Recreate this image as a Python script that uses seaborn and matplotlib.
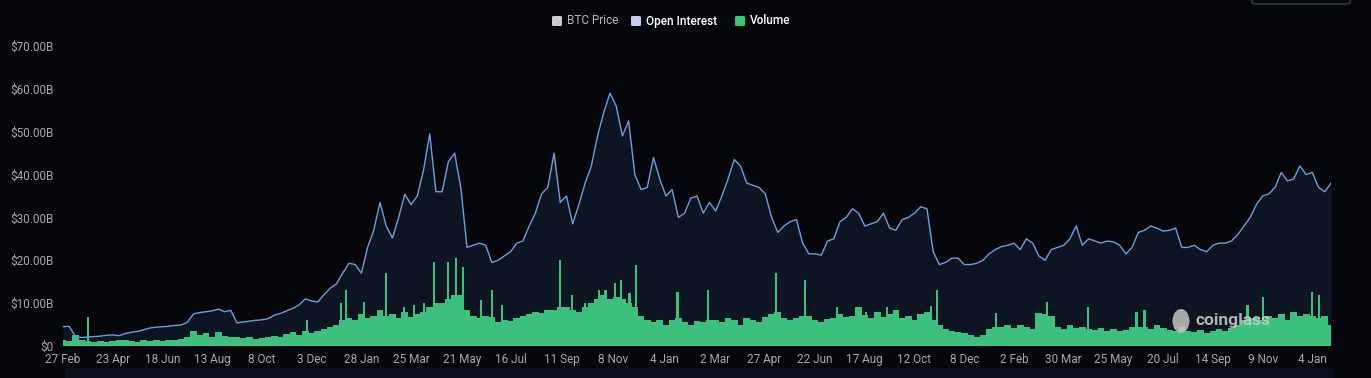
import pandas as pd
import matplotlib.pyplot as plt
import seaborn as sns
from matplotlib.patches import FancyBboxPatch, Rectangle, Ellipse


# weekly samples, first point 27 Feb 2020 (values in $B)
start_date = '2020-02-27'

open_interest = [
    4.5, 4.6, 2.2, 2.0, 2.1, 2.2, 2.3, 2.5, 2.6, 2.4,
    2.9, 3.2, 3.4, 3.8, 4.2, 4.4, 4.5, 4.6, 4.8, 4.9,
    5.5, 7.5, 7.8, 8.0, 8.2, 8.6, 8.0, 8.3, 5.4, 5.6,
    5.8, 6.0, 6.1, 6.4, 7.2, 7.6, 8.2, 8.8, 9.6, 11.0,
    10.5, 10.3, 12.0, 13.5, 14.5, 17.0, 19.3, 19.0, 17.0, 23.0,
    27.0, 33.5, 28.0, 25.2, 30.0, 35.4, 33.0, 35.0, 41.0, 49.5,
    36.0, 36.0, 43.0, 45.0, 37.0, 23.0, 23.5, 24.0, 23.5, 19.5,
    20.0, 21.0, 22.0, 24.0, 24.5, 28.0, 31.0, 35.5, 37.0, 45.0,
    33.5, 35.0, 28.5, 33.0, 38.0, 42.0, 49.0, 54.5, 59.0, 56.0,
    49.0, 52.5, 40.0, 36.5, 37.0, 44.0, 39.0, 35.0, 36.5, 30.0,
    31.0, 34.5, 35.0, 31.0, 33.5, 31.5, 35.0, 39.0, 43.5, 42.0,
    38.0, 37.5, 37.0, 35.5, 30.0, 26.5, 28.0, 29.0, 29.5, 24.0,
    21.5, 21.5, 21.2, 24.5, 25.0, 29.0, 30.0, 32.0, 31.0, 28.0,
    28.5, 29.0, 31.0, 27.5, 27.0, 29.5, 30.0, 31.0, 32.5, 32.0,
    22.0, 19.0, 19.5, 20.5, 20.5, 19.0, 19.0, 19.3, 20.0, 21.5,
    22.5, 23.2, 23.5, 24.0, 22.5, 25.0, 24.0, 21.0, 20.0, 22.5,
    23.0, 23.5, 25.0, 28.0, 23.5, 25.0, 24.5, 24.0, 24.5, 24.3,
    23.5, 21.5, 23.0, 26.5, 27.0, 28.0, 27.5, 26.8, 27.0, 27.5,
    23.0, 23.0, 23.5, 22.5, 22.0, 23.5, 24.0, 24.0, 24.5, 26.0,
    28.0, 30.0, 33.0, 35.0, 35.5, 37.0, 40.5, 38.5, 39.0, 42.0,
    40.0, 40.5, 37.0, 36.0, 38.0,
]

# typical weekly volume level (the green mass)
volume = [
    1.5, 1.2, 2.5, 1.5, 1.2, 1.0, 1.2, 0.9, 1.1, 1.3,
    1.5, 1.2, 1.0, 1.3, 1.1, 1.4, 1.2, 1.5, 1.3, 1.6,
    2.0, 3.5, 2.5, 3.0, 2.2, 3.2, 2.4, 2.0, 2.2, 1.8,
    2.0, 1.6, 1.8, 2.0, 2.4, 2.2, 2.8, 3.2, 2.6, 3.5,
    3.0, 3.5, 4.0, 4.5, 5.0, 6.0, 6.5, 6.0, 7.5, 6.5,
    7.0, 8.5, 7.0, 7.5, 6.5, 8.0, 6.8, 7.5, 8.0, 9.0,
    10.0, 10.0, 11.0, 12.0, 12.0, 8.5, 7.0, 6.5, 7.0, 6.8,
    5.5, 6.0, 5.8, 6.5, 7.0, 7.5, 8.0, 7.8, 8.5, 8.5,
    9.0, 9.0, 8.5, 8.0, 9.0, 10.0, 11.0, 12.0, 11.0, 11.5,
    11.0, 10.0, 9.0, 7.0, 6.0, 5.5, 6.0, 5.0, 6.0, 6.5,
    5.5, 5.0, 5.8, 5.5, 6.0, 6.0, 5.5, 6.5, 6.0, 5.0,
    6.5, 6.0, 5.5, 6.8, 7.5, 8.0, 6.5, 6.0, 6.5, 7.0,
    7.0, 6.0, 5.5, 6.2, 6.5, 7.5, 6.8, 7.0, 9.0, 7.2,
    6.5, 8.0, 6.8, 7.5, 8.5, 6.5, 7.0, 6.0, 7.5, 8.0,
    6.0, 5.0, 4.0, 3.5, 3.2, 3.0, 2.5, 2.2, 2.5, 4.0,
    4.5, 4.5, 5.0, 4.2, 4.8, 4.5, 4.0, 7.6, 7.5, 7.0,
    4.5, 4.0, 5.0, 4.2, 4.5, 4.0, 3.8, 4.2, 3.5, 4.0,
    3.5, 3.8, 4.5, 4.5, 4.5, 4.0, 5.0, 4.2, 3.8, 3.5,
    4.5, 3.5, 3.2, 3.8, 3.0, 3.5, 4.0, 3.5, 4.2, 5.0,
    6.0, 6.5, 6.5, 6.0, 7.0, 6.5, 7.5, 6.0, 8.0, 7.0,
    7.5, 7.0, 6.5, 7.0, 5.0,
]

# single-day volume spikes that stand above the mass
spike_dates = [
    '2020-03-26', '2020-11-28', '2021-01-05', '2021-01-11', '2021-01-31',
    '2021-02-25', '2021-03-17', '2021-03-28', '2021-04-09', '2021-04-20',
    '2021-05-06', '2021-05-15', '2021-05-22', '2021-06-12', '2021-06-24',
    '2021-07-05', '2021-09-09', '2021-09-22', '2021-10-07', '2021-10-23',
    '2021-10-30', '2021-11-10', '2021-11-16', '2021-11-26', '2021-12-03',
    '2022-01-19', '2022-02-22', '2022-05-10', '2022-06-12', '2022-07-18',
    '2022-08-19', '2022-09-12', '2022-10-25', '2022-11-01', '2022-11-07',
    '2023-01-13', '2023-03-11', '2023-04-26', '2023-06-20', '2023-06-29',
    '2023-10-23', '2023-11-09', '2024-01-04', '2024-01-11',
]
spike_values = [
    6.8, 6.0, 10.0, 13.0, 10.3,
    17.0, 9.0, 9.5, 10.0, 19.6,
    19.5, 20.5, 18.5, 10.7, 13.0,
    9.5, 20.0, 12.0, 10.0, 13.0,
    13.0, 14.6, 15.4, 12.3, 18.9,
    12.7, 13.0, 17.0, 15.4, 9.2,
    8.0, 9.0, 8.0, 9.3, 13.0,
    7.6, 10.3, 9.0, 8.0, 8.5,
    9.6, 11.5, 12.7, 12.0,
]

tick_dates = [
    '2020-02-27', '2020-04-23', '2020-06-18', '2020-08-13', '2020-10-08',
    '2020-12-03', '2021-01-28', '2021-03-25', '2021-05-21', '2021-07-16',
    '2021-09-11', '2021-11-08', '2022-01-04', '2022-03-02', '2022-04-27',
    '2022-06-22', '2022-08-17', '2022-10-12', '2022-12-08', '2023-02-02',
    '2023-03-30', '2023-05-25', '2023-07-20', '2023-09-14', '2023-11-09',
    '2024-01-04',
]
tick_labels = [
    '27 Feb', '23 Apr', '18 Jun', '13 Aug', '8 Oct', '3 Dec', '28 Jan',
    '25 Mar', '21 May', '16 Jul', '11 Sep', '8 Nov', '4 Jan', '2 Mar',
    '27 Apr', '22 Jun', '17 Aug', '12 Oct', '8 Dec', '2 Feb', '30 Mar',
    '25 May', '20 Jul', '14 Sep', '9 Nov', '4 Jan',
]
y_ticks = [0, 10, 20, 30, 40, 50, 60, 70]
y_labels = ['$0', '$10.00B', '$20.00B', '$30.00B', '$40.00B',
            '$50.00B', '$60.00B', '$70.00B']
legend_names = ['BTC Price', 'Open Interest', 'Volume']

df = pd.DataFrame({
    'date': pd.date_range(start_date, periods=len(open_interest), freq='7D'),
    'oi': open_interest,
    'volume': volume,
})
spikes = pd.DataFrame({'date': pd.to_datetime(spike_dates), 'volume': spike_values})

bg = '#05070c'
green = '#3dbf7e'
sns.set_style('dark')
plt.rcParams['font.family'] = ['Roboto', 'DejaVu Sans']

W, H = 1371, 378
fig = plt.figure(figsize=(W / 100, H / 100), dpi=100, facecolor=bg)
ax = fig.add_axes([63 / W, 32 / H, (1331 - 63) / W, 300 / H])
ax.set_facecolor(bg)

# filled area under open interest, then volume bars, then the line
ax.fill_between(df['date'], df['oi'], color='#0e1522', lw=0, zorder=1)
ax.bar(df['date'], df['volume'], width=7.6, color=green, lw=0, zorder=2)
ax.bar(spikes['date'], spikes['volume'], width=2.4, color=green, lw=0, zorder=2)
sns.lineplot(data=df, x='date', y='oi', ax=ax, color='#6e9fd8', lw=1.0, zorder=3)

ax.set_xlim(df['date'].iloc[0], df['date'].iloc[-1])
ax.set_ylim(0, 70)
ax.set_yticks(y_ticks)
ax.set_yticklabels(y_labels)
ax.set_xticks(pd.to_datetime(tick_dates))
ax.set_xticklabels(tick_labels)
ax.tick_params(axis='both', length=0, labelcolor='#a6a8ad', labelsize=8.5)
ax.tick_params(axis='y', pad=7)
ax.tick_params(axis='x', pad=5)
ax.set_xlabel('')
ax.set_ylabel('')
ax.grid(False)
for s in ax.spines.values():
    s.set_visible(False)

# legend drawn by hand at top centre
swatches = ['#c9ccc9', '#c5cff5', '#2fcc71']
text_colors = ['#b4b6b8', '#ffffff', '#ffffff']
weights = ['normal', 'medium', 'medium']
sq_x = [552, 631, 735]
for name, sw, tc, wt, x in zip(legend_names, swatches, text_colors, weights, sq_x):
    fig.patches.append(FancyBboxPatch(
        (x / W, 1 - 26 / H), 10 / W, 10 / H,
        boxstyle='round,pad=0,rounding_size=0.002', transform=fig.transFigure,
        facecolor=sw, edgecolor='none'))
    fig.text((x + 15) / W, 1 - 21 / H, name, color=tc, fontsize=8.5,
             fontweight=wt, va='center', ha='left')

# watermark
fig.patches.append(Ellipse((1181 / W, 1 - 321 / H), 17 / W, 24 / H,
                           transform=fig.transFigure, facecolor='#c4c4c4',
                           edgecolor='none', alpha=0.85, zorder=5))
fig.text(1196 / W, 1 - 321 / H, 'coinglass', color='#cfcfcf', alpha=0.85,
         fontsize=12.5, fontweight='bold', va='center', ha='left', zorder=5)

# slider strip under the axis and the button outline at the top right
fig.patches.append(Rectangle((65 / W, 0), (1333 - 65) / W, 10 / H,
                             transform=fig.transFigure, facecolor='#0a0f1b',
                             edgecolor='none'))
fig.patches.append(FancyBboxPatch(
    (1252 / W, 1 - 4 / H), 98 / W, 20 / H,
    boxstyle='round,pad=0,rounding_size=0.004', transform=fig.transFigure,
    facecolor='none', edgecolor='#3a3e46', lw=1))

fig.savefig('out.png', dpi=100, facecolor=bg)
